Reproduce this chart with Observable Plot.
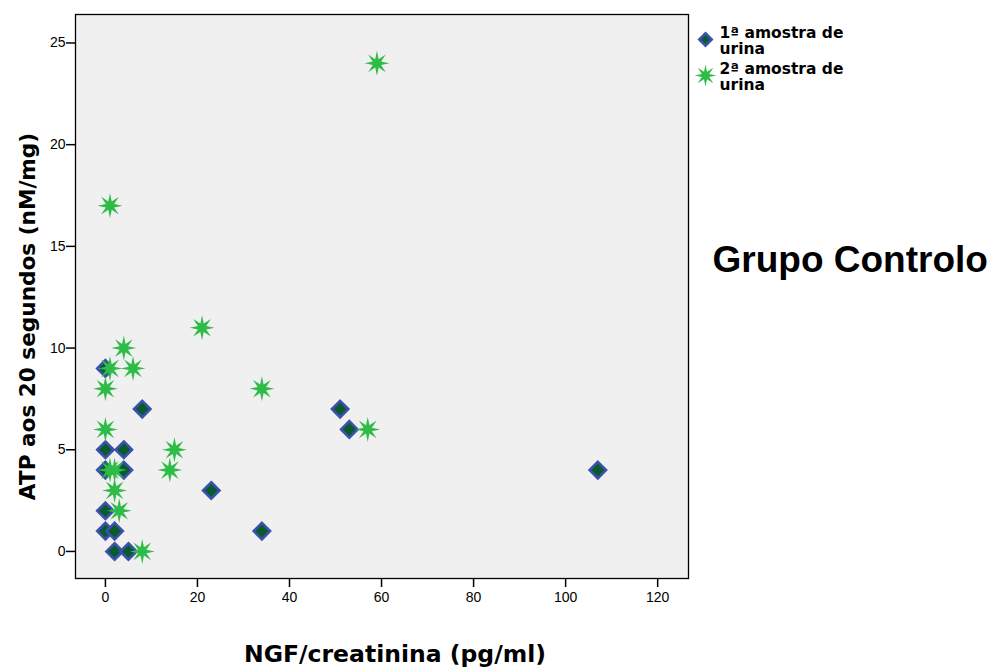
<!DOCTYPE html>
<html><head><meta charset="utf-8">
<script src="https://cdn.jsdelivr.net/npm/d3@7"></script>
<script src="https://cdn.jsdelivr.net/npm/@observablehq/plot@0.6"></script>
<style>body{margin:0;background:#fff} #chart{width:997px;height:668px}</style>
</head><body><div id="chart"></div>
<script>
// Series 1: 1ª amostra de urina
const ngf1 = [0, 8, 0, 4, 0, 4, 23, 0, 0, 2, 34, 2, 5, 51, 53, 107];
const atp1 = [9, 7, 5, 5, 4, 4, 3, 2, 1, 1, 1, 0, 0, 7, 6, 4];
// Series 2: 2ª amostra de urina
const ngf2 = [59, 1, 21, 4, 1, 6, 0, 34, 0, 57, 15, 1, 2, 14, 2, 3, 8];
const atp2 = [24, 17, 11, 10, 9, 9, 8, 8, 6, 6, 5, 4, 4, 4, 3, 2, 0];
const seriesNames = ["1ª amostra de\nurina", "2ª amostra de\nurina"];
const xTicks = [0, 20, 40, 60, 80, 100, 120];
const yTicks = [0, 5, 10, 15, 20, 25];
const xLabel = "NGF/creatinina (pg/ml)";
const yLabel = "ATP aos 20 segundos (nM/mg)";
const title = "Grupo Controlo";

const s1 = ngf1.map((x, i) => ({x, y: atp1[i]}));
const s2 = ngf2.map((x, i) => ({x, y: atp2[i]}));

const star8 = {
  draw(ctx, size) {
    const R = Math.sqrt(size / Math.PI), r = R * 0.36;
    for (let i = 0; i < 16; i++) {
      const a = i * Math.PI / 8 - Math.PI / 2;
      const rr = i % 2 ? r : R;
      const px = rr * Math.cos(a), py = rr * Math.sin(a);
      if (i) ctx.lineTo(px, py); else ctx.moveTo(px, py);
    }
    ctx.closePath();
  }
};

const font = "'Liberation Sans', Arial, sans-serif";
const heavy = "'DejaVu Sans', sans-serif";
const diamondStyle = {symbol: "diamond2", r: 7.4, fill: "#0b5a2e", stroke: "#3b52ad", strokeWidth: 2.6};
const starStyle = {symbol: star8, r: 12.5, fill: "#2fbb47", stroke: "none"};

const chart = Plot.plot({
  width: 997, height: 668,
  marginLeft: 75, marginRight: 309, marginTop: 14, marginBottom: 90,
  style: {fontFamily: font, background: "#fff", color: "#000", overflow: "visible"},
  x: {domain: [-6.5, 126.7]},
  y: {domain: [-1.33, 26.4]},
  marks: [
    Plot.frame({fill: "#f0f0f0", stroke: "#000", strokeWidth: 1.3}),
    Plot.axisX({ticks: xTicks, tickSize: 9, tickPadding: 5, fontSize: 14, label: null, strokeWidth: 1.5}),
    Plot.axisY({ticks: yTicks, tickSize: 9, tickPadding: 1, fontSize: 14, label: null, strokeWidth: 1.5}),
    Plot.dot(s1, {x: "x", y: "y", ...diamondStyle}),
    Plot.dot(s2, {x: "x", y: "y", ...starStyle}),
    Plot.text([xLabel], {frameAnchor: "bottom", dx: 13, dy: 76, fontSize: 23.5, fontWeight: "bold", fontFamily: heavy, textAnchor: "middle", lineAnchor: "middle"}),
    Plot.text([yLabel], {frameAnchor: "left", dx: -47, dy: 20, rotate: -90, fontSize: 21.6, fontWeight: "bold", fontFamily: heavy, textAnchor: "middle", lineAnchor: "middle"}),
    Plot.dot([seriesNames[0]], {frameAnchor: "top-right", dx: 17, dy: 25, ...diamondStyle, r: 5.6}),
    Plot.dot([seriesNames[1]], {frameAnchor: "top-right", dx: 17, dy: 61, ...starStyle, r: 11}),
    Plot.text([seriesNames[0]], {frameAnchor: "top-right", dx: 31, dy: 26, textAnchor: "start", lineAnchor: "middle", fontSize: 15.5, fontWeight: "bold", fontFamily: heavy, lineHeight: 1.04}),
    Plot.text([seriesNames[1]], {frameAnchor: "top-right", dx: 31, dy: 62, textAnchor: "start", lineAnchor: "middle", fontSize: 15.5, fontWeight: "bold", fontFamily: heavy, lineHeight: 1.04}),
    Plot.text([title], {frameAnchor: "top-right", dx: 24, dy: 246, textAnchor: "start", lineAnchor: "middle", fontSize: 37, fontWeight: "bold"})
  ]
});
document.getElementById("chart").appendChild(chart);
</script>
</body></html>
